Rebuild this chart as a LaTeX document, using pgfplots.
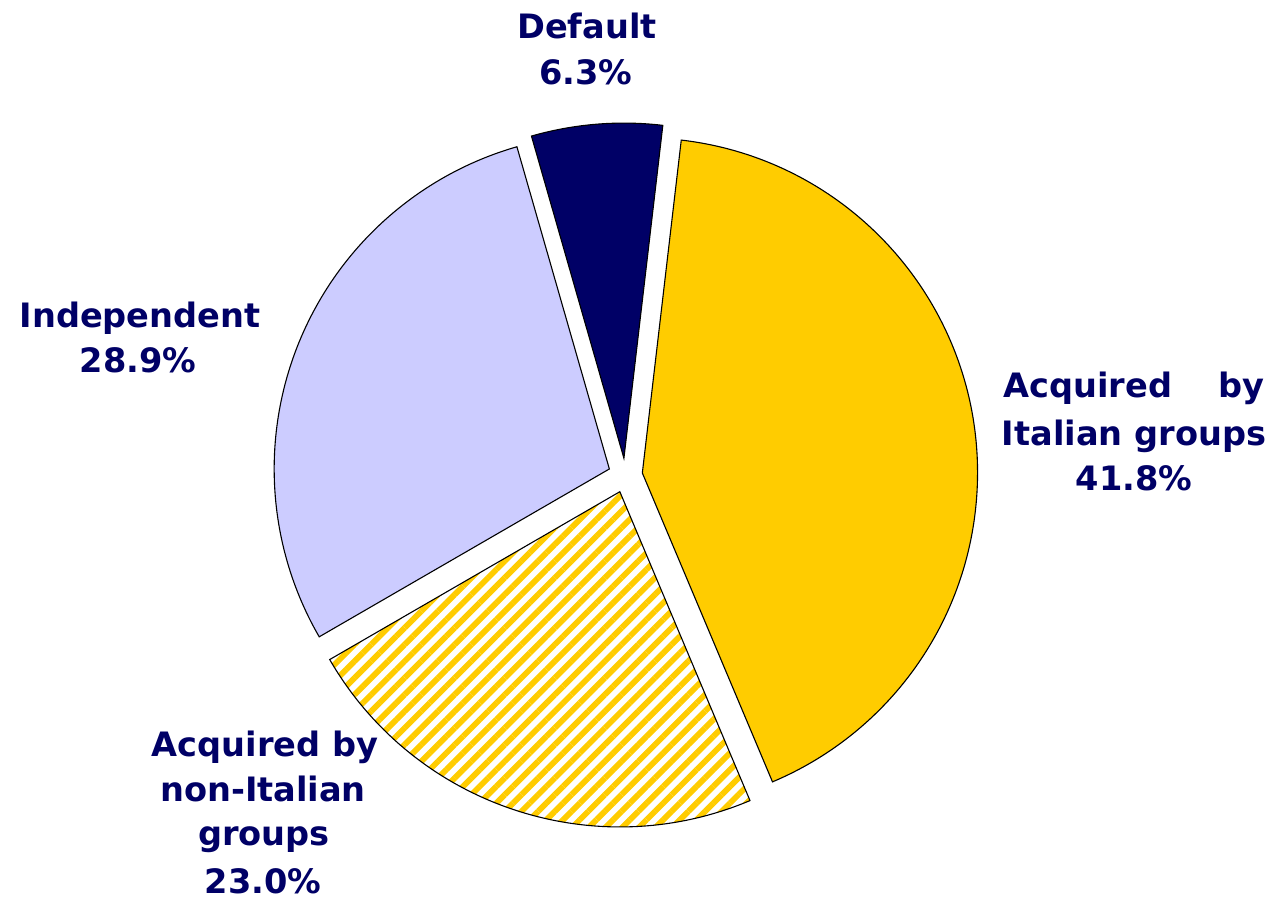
\documentclass[border=0pt]{standalone}
\usepackage{pgfplots}
\pgfplotsset{compat=1.18}
\usepackage{pgfplotstable}
\usetikzlibrary{patterns.meta}
\usepackage{fontspec}
\setmainfont{DejaVu Sans}
\definecolor{navy}{HTML}{000066}
\definecolor{gold}{HTML}{FFCC00}
\definecolor{lav}{HTML}{CCCCFF}

\pgfplotstableread{
name value
Italian 41.8
NonItalian 23.0
Independent 28.9
Default 6.3
}\piedata

% centre of the pie (image pixel units), radius and explosion (pt, 1px = 0.5pt)
\newcommand\cx{625.3}
\newcommand\cy{475.4}
\newcommand\pieslice[3]{%
  \draw[line width=0.55pt,#3] (axis cs:\cx,\cy) ++({(#1+#2)/2}:8.6pt) -- ++(#1:167.6pt)
     arc[start angle=#1,end angle=#2,radius=167.6pt] -- cycle;}

\begin{document}
\begin{tikzpicture}
\pgfplotstablegetelem{0}{value}\of\piedata \let\vA\pgfplotsretval
\pgfplotstablegetelem{1}{value}\of\piedata \let\vB\pgfplotsretval
\pgfplotstablegetelem{2}{value}\of\piedata \let\vC\pgfplotsretval
\pgfplotstablegetelem{3}{value}\of\piedata \let\vD\pgfplotsretval
\pgfmathsetmacro{\aA}{83.33}
\pgfmathsetmacro{\aB}{\aA-3.6*\vA}
\pgfmathsetmacro{\aC}{\aB-3.6*\vB}
\pgfmathsetmacro{\aD}{\aC-3.6*\vC}
\pgfmathsetmacro{\aE}{\aD-3.6*\vD}
\begin{axis}[x=0.5pt,y=0.5pt,y dir=reverse,xmin=0,xmax=1284,ymin=0,ymax=899,
  hide axis,clip=false]
\pieslice{\aA}{\aB}{fill=gold}
\pieslice{\aB}{\aC}{pattern={Lines[angle=45,distance=5.9pt,line width=2.9pt]},pattern color=gold}
\pieslice{\aC}{\aD}{fill=lav}
\pieslice{\aD}{\aE}{fill=navy}
\begin{scope}[every node/.style={font=\fontsize{16.8}{20}\selectfont\bfseries,text=navy,inner sep=0pt}]
\node[anchor=base] at (axis cs:587,39) {Default};
\node[anchor=base] at (axis cs:586,85) {6.3\%};
\node[anchor=base] at (axis cs:140,327.7) {Independent};
\node[anchor=base] at (axis cs:138,372.7) {28.9\%};
\node[anchor=base west] at (axis cs:1003,397.3) {Acquired};
\node[anchor=base east] at (axis cs:1265,397.3) {by};
\node[anchor=base] at (axis cs:1134,445) {Italian groups};
\node[anchor=base] at (axis cs:1134,490) {41.8\%};
\node[anchor=base] at (axis cs:265,756) {Acquired by};
\node[anchor=base] at (axis cs:263,801.7) {non-Italian};
\node[anchor=base] at (axis cs:264,845) {groups};
\node[anchor=base] at (axis cs:263,893) {23.0\%};
\end{scope}
\end{axis}
\path (current axis.south west) rectangle (current axis.north east);
\end{tikzpicture}
\end{document}
